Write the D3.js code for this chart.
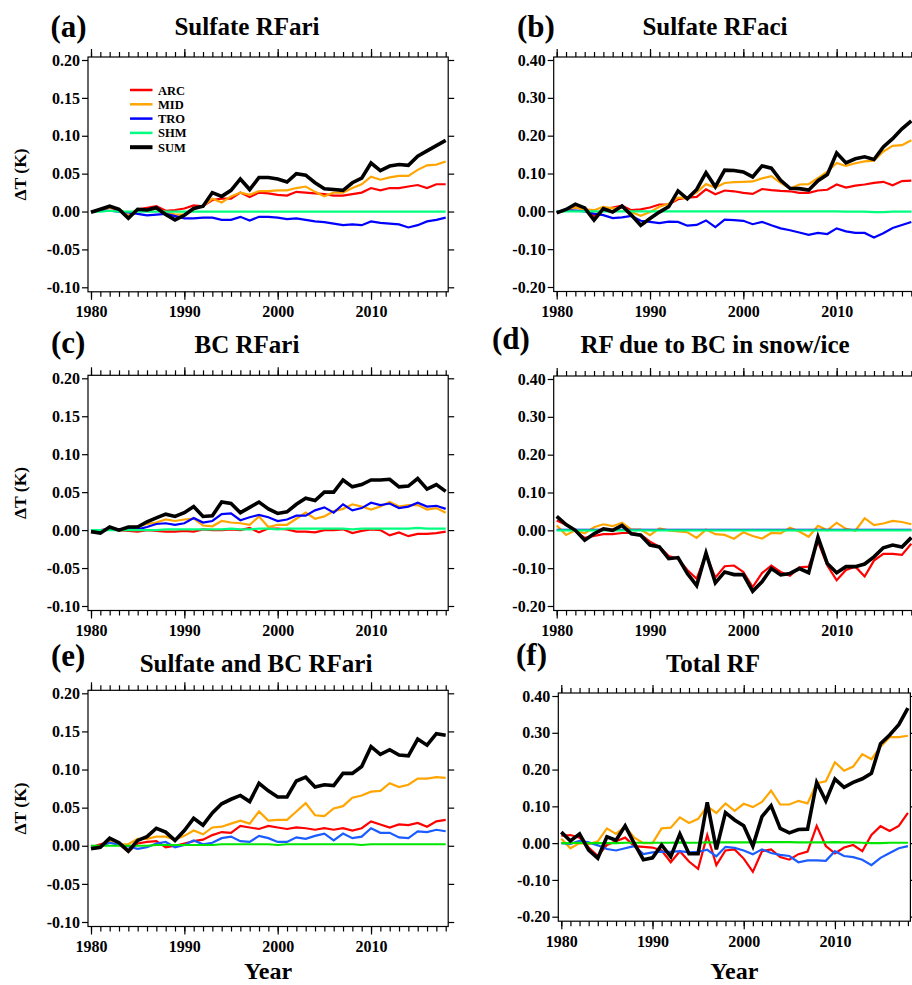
<!DOCTYPE html>
<html>
<head>
<meta charset="utf-8">
<script src="https://cdn.jsdelivr.net/npm/d3@7"></script>
<style>
  body { margin: 0; background: #fff; }
  svg { display: block; }
  svg text { font-family: "Liberation Serif", "Times New Roman", serif; font-weight: bold; fill: #000; }
</style>
</head>
<body>
<div id="chart"></div>
<script>
"use strict";

// ---- data ----
const years = d3.range(1980, 2019);
const regions = ["ARC", "MID", "TRO", "SHM", "SUM"];
const xTickLabels = [1980, 1990, 2000, 2010];
const yTicksSmall = [-0.10, -0.05, 0.00, 0.05, 0.10, 0.15, 0.20];
const yTicksLarge = [-0.20, -0.10, 0.00, 0.10, 0.20, 0.30, 0.40];

// (a) Sulfate RFari
const aARC = [-0.001,0.002,0.005,0.002,-0.007,0.003,0.005,0.007,0.001,0.002,0.004,0.008,0.007,0.015,0.017,0.017,0.025,0.019,0.025,0.024,0.022,0.021,0.026,0.025,0.024,0.023,0.021,0.021,0.023,0.025,0.031,0.028,0.031,0.031,0.033,0.035,0.031,0.036,0.036];
const aMID = [-0.001,0.002,0.005,0.003,-0.005,0.003,0.002,0.004,-0.001,-0.004,-0.004,0.004,0.007,0.017,0.012,0.020,0.025,0.022,0.027,0.027,0.028,0.028,0.031,0.033,0.026,0.020,0.025,0.025,0.031,0.036,0.046,0.042,0.045,0.047,0.047,0.055,0.061,0.062,0.066];
const aTRO = [0.000,0.001,0.001,0.000,-0.001,-0.003,-0.005,-0.004,-0.003,-0.006,-0.009,-0.009,-0.008,-0.008,-0.011,-0.011,-0.007,-0.012,-0.007,-0.007,-0.008,-0.010,-0.009,-0.011,-0.013,-0.014,-0.016,-0.018,-0.017,-0.018,-0.013,-0.015,-0.016,-0.017,-0.021,-0.018,-0.013,-0.011,-0.008];
const aSHM = [0.000,0.000,0.001,0.000,0.000,0.000,0.000,0.000,0.000,0.000,0.000,0.000,0.000,0.000,0.000,0.000,0.000,0.000,0.000,0.000,0.000,0.000,0.000,0.000,0.000,0.000,0.000,0.000,0.000,0.000,0.000,0.000,0.000,0.000,0.000,0.000,0.000,0.000,0.000];
const aSUM = [-0.001,0.003,0.007,0.003,-0.009,0.003,0.002,0.005,-0.004,-0.011,-0.005,0.004,0.007,0.025,0.020,0.028,0.043,0.029,0.045,0.045,0.043,0.039,0.050,0.048,0.038,0.030,0.029,0.028,0.038,0.044,0.064,0.054,0.060,0.062,0.061,0.073,0.080,0.087,0.094];

// (b) Sulfate RFaci
const bARC = [-0.002,0.003,0.010,0.007,-0.012,0.005,0.010,0.015,0.003,0.005,0.010,0.018,0.018,0.032,0.036,0.038,0.058,0.045,0.055,0.053,0.049,0.046,0.059,0.056,0.054,0.053,0.049,0.049,0.055,0.057,0.071,0.063,0.068,0.071,0.075,0.078,0.069,0.080,0.081];
const bMID = [-0.003,0.002,0.010,0.005,0.003,0.012,0.008,0.010,-0.002,-0.012,-0.002,0.012,0.020,0.036,0.035,0.050,0.072,0.063,0.075,0.077,0.078,0.079,0.087,0.093,0.075,0.060,0.071,0.072,0.088,0.105,0.128,0.120,0.127,0.132,0.134,0.158,0.173,0.175,0.188];
const bTRO = [0.000,0.002,0.002,0.000,-0.006,-0.010,-0.018,-0.016,-0.012,-0.025,-0.028,-0.031,-0.027,-0.028,-0.038,-0.036,-0.024,-0.042,-0.022,-0.023,-0.025,-0.034,-0.028,-0.037,-0.045,-0.050,-0.056,-0.062,-0.057,-0.060,-0.045,-0.053,-0.057,-0.057,-0.069,-0.058,-0.044,-0.036,-0.028];
const bSHM = [0.000,0.000,0.000,0.000,0.000,0.000,0.000,0.000,0.000,0.000,0.000,0.000,0.000,0.000,0.000,0.000,0.000,0.000,0.000,0.000,0.000,0.000,0.000,0.000,0.000,0.000,0.000,0.000,0.000,0.000,0.000,-0.001,-0.001,-0.001,-0.002,-0.002,-0.001,-0.001,-0.001];
const bSUM = [-0.004,0.005,0.019,0.009,-0.023,0.007,-0.002,0.014,-0.010,-0.037,-0.019,-0.002,0.012,0.054,0.033,0.058,0.102,0.065,0.109,0.108,0.104,0.091,0.120,0.114,0.082,0.061,0.060,0.056,0.081,0.097,0.154,0.128,0.139,0.144,0.137,0.170,0.192,0.218,0.239];

// (c) BC RFari
const cARC = [0.000,0.000,0.001,0.000,-0.001,-0.002,0.000,-0.001,-0.002,-0.002,-0.001,-0.002,0.001,0.000,0.000,0.001,0.000,0.003,-0.003,0.002,0.002,0.001,-0.002,-0.002,-0.003,0.000,0.000,0.001,-0.004,-0.001,0.001,0.000,-0.007,-0.003,-0.008,-0.005,-0.005,-0.004,-0.002];
const cMID = [0.000,-0.002,0.002,0.000,0.004,0.005,0.008,0.010,0.014,0.012,0.014,0.015,0.006,0.005,0.012,0.010,0.009,0.007,0.018,0.004,0.007,0.007,0.015,0.023,0.015,0.018,0.025,0.028,0.034,0.031,0.027,0.031,0.037,0.031,0.033,0.033,0.027,0.029,0.023];
const cTRO = [0.000,0.000,0.001,0.001,0.001,0.001,0.004,0.008,0.009,0.007,0.009,0.016,0.010,0.012,0.021,0.022,0.013,0.017,0.020,0.017,0.012,0.014,0.019,0.019,0.026,0.030,0.023,0.034,0.026,0.029,0.036,0.033,0.035,0.029,0.031,0.036,0.031,0.032,0.028];
const cSHM = [0.000,0.000,0.000,0.000,0.000,0.000,0.000,0.000,0.001,0.001,0.001,0.001,0.001,0.001,0.001,0.002,0.001,0.001,0.002,0.002,0.001,0.002,0.002,0.002,0.002,0.002,0.002,0.002,0.001,0.002,0.002,0.002,0.002,0.002,0.002,0.003,0.002,0.002,0.002];
const cSUM = [-0.002,-0.004,0.004,0.000,0.004,0.004,0.011,0.016,0.021,0.018,0.023,0.031,0.018,0.019,0.037,0.035,0.023,0.030,0.037,0.028,0.022,0.024,0.034,0.042,0.039,0.050,0.050,0.066,0.057,0.060,0.066,0.066,0.067,0.057,0.058,0.068,0.054,0.060,0.051];

// (d) RF due to BC in snow/ice
const dARC = [0.026,0.015,-0.002,-0.020,-0.015,-0.010,-0.010,-0.007,-0.007,-0.011,-0.030,-0.043,-0.068,-0.075,-0.105,-0.128,-0.063,-0.125,-0.095,-0.093,-0.110,-0.150,-0.113,-0.093,-0.110,-0.120,-0.098,-0.096,-0.030,-0.093,-0.132,-0.105,-0.096,-0.122,-0.080,-0.062,-0.062,-0.065,-0.035];
const dMID = [0.013,-0.012,0.000,-0.008,0.008,0.016,0.011,0.020,0.002,0.002,-0.013,0.005,0.000,-0.003,-0.005,-0.020,0.002,-0.010,-0.012,-0.022,-0.005,-0.015,-0.022,-0.007,-0.008,0.007,-0.003,-0.017,0.012,0.000,0.020,0.004,-0.001,0.032,0.014,0.018,0.025,0.022,0.016];
const dTRO = [0.001,0.001,0.001,0.001,0.001,0.001,0.001,0.001,0.001,0.001,0.001,0.001,0.001,0.001,0.001,0.001,0.001,0.001,0.001,0.001,0.001,0.001,0.001,0.001,0.001,0.001,0.001,0.001,0.001,0.001,0.001,0.001,0.001,0.001,0.001,0.001,0.001,0.001,0.001];
const dSHM = [0.000,0.000,0.000,0.000,0.000,0.000,0.000,0.000,0.000,0.000,0.000,0.000,0.000,0.000,0.000,0.000,0.000,0.000,0.000,0.000,0.000,0.000,0.000,0.000,0.000,0.000,0.000,0.000,0.000,0.000,0.000,0.000,0.000,0.000,0.000,0.000,0.000,0.000,0.000];
const dSUM = [0.037,0.015,0.000,-0.026,-0.009,0.004,0.000,0.013,-0.009,-0.013,-0.039,-0.044,-0.075,-0.072,-0.114,-0.146,-0.060,-0.139,-0.110,-0.117,-0.117,-0.161,-0.136,-0.101,-0.118,-0.114,-0.101,-0.112,-0.018,-0.088,-0.112,-0.096,-0.096,-0.089,-0.070,-0.046,-0.039,-0.044,-0.019];

// (e) Sulfate and BC RFari
const eARC = [-0.002,0.002,0.005,0.002,-0.008,0.003,0.005,0.006,-0.002,0.000,0.003,0.006,0.008,0.014,0.018,0.017,0.026,0.024,0.022,0.026,0.024,0.022,0.024,0.023,0.021,0.023,0.021,0.023,0.020,0.023,0.032,0.028,0.024,0.028,0.027,0.030,0.025,0.032,0.034];
const eMID = [-0.002,-0.001,0.007,0.002,0.002,0.009,0.009,0.012,0.012,0.008,0.013,0.020,0.015,0.024,0.025,0.029,0.033,0.029,0.045,0.033,0.034,0.034,0.045,0.056,0.040,0.039,0.049,0.052,0.063,0.066,0.071,0.072,0.082,0.077,0.080,0.088,0.088,0.090,0.089];
const eTRO = [0.000,-0.001,0.004,0.001,-0.001,-0.004,-0.002,0.003,0.005,-0.002,0.001,0.007,0.002,0.004,0.010,0.012,0.006,0.005,0.013,0.010,0.005,0.005,0.011,0.009,0.013,0.016,0.007,0.016,0.010,0.012,0.023,0.017,0.017,0.011,0.010,0.019,0.018,0.021,0.019];
const eSHM = [0.000,0.000,0.000,0.000,0.000,0.000,0.000,0.001,0.001,0.001,0.001,0.001,0.001,0.001,0.002,0.002,0.002,0.002,0.002,0.002,0.001,0.002,0.002,0.002,0.002,0.002,0.002,0.002,0.002,0.001,0.002,0.002,0.002,0.002,0.002,0.002,0.002,0.002,0.002];
const eSUM = [-0.004,-0.002,0.010,0.004,-0.007,0.007,0.012,0.023,0.018,0.007,0.020,0.036,0.027,0.043,0.055,0.061,0.066,0.058,0.082,0.072,0.064,0.064,0.085,0.090,0.077,0.080,0.079,0.095,0.095,0.104,0.130,0.120,0.126,0.119,0.118,0.140,0.132,0.147,0.145];

// (f) Total RF
const fARC = [0.020,0.022,0.015,-0.012,-0.035,-0.005,0.005,0.015,-0.008,-0.010,-0.012,-0.020,-0.052,-0.022,-0.050,-0.070,0.022,-0.060,-0.020,-0.017,-0.042,-0.078,-0.022,-0.017,-0.038,-0.045,-0.030,-0.023,0.047,-0.008,-0.028,-0.012,-0.005,-0.022,0.022,0.046,0.033,0.047,0.082];
const fMID = [0.012,-0.014,0.000,-0.003,0.005,0.040,0.025,0.045,0.015,0.000,0.000,0.040,0.042,0.070,0.055,0.066,0.100,0.082,0.108,0.088,0.107,0.098,0.112,0.143,0.105,0.105,0.115,0.108,0.163,0.168,0.220,0.197,0.208,0.242,0.228,0.262,0.288,0.288,0.292];
const fTRO = [0.000,-0.002,0.006,0.002,-0.006,-0.016,-0.020,-0.014,-0.008,-0.030,-0.025,-0.023,-0.024,-0.022,-0.025,-0.024,-0.018,-0.036,-0.010,-0.013,-0.020,-0.030,-0.017,-0.027,-0.032,-0.035,-0.052,-0.047,-0.047,-0.048,-0.022,-0.035,-0.038,-0.045,-0.060,-0.040,-0.027,-0.014,-0.008];
const fSHM = [0.000,0.000,0.001,0.000,0.000,0.000,0.000,0.001,0.001,0.001,0.001,0.001,0.001,0.002,0.001,0.001,0.002,0.002,0.002,0.002,0.002,0.002,0.003,0.003,0.003,0.003,0.002,0.002,0.002,0.002,0.003,0.002,0.002,0.001,0.000,0.000,0.001,0.001,0.001];
const fSUM = [0.030,0.006,0.025,-0.019,-0.041,0.017,0.008,0.047,-0.001,-0.045,-0.040,-0.005,-0.037,0.025,-0.029,-0.029,0.111,-0.017,0.083,0.063,0.047,-0.008,0.072,0.102,0.040,0.028,0.037,0.038,0.165,0.115,0.174,0.152,0.165,0.175,0.190,0.270,0.294,0.322,0.367];

// ---- styles ----
const serif = '"Liberation Serif", "Times New Roman", serif';
const colorsTop = {ARC: "#ff0000", MID: "#ffa500", TRO: "#0000ff", SHM: "#00ff7f", SUM: "#000000"};
const colorsBottom = {ARC: "#ff0000", MID: "#ffa500", TRO: "#1a5cff", SHM: "#00e600", SUM: "#000000"};

const panels = [
  {tag: "(a)", title: "Sulfate RFari", series: [aARC, aMID, aTRO, aSHM, aSUM], ticks: yTicksSmall, dom: [-0.1, 0.2],
   x0: 91, x1: 445.7, yTop: 60, yBot: 287.3, colors: colorsTop, tagX: 50.5, tagY: 37, titleX: 247, titleY: 34.5, ylabel: true, legend: true},
  {tag: "(b)", title: "Sulfate RFaci", series: [bARC, bMID, bTRO, bSHM, bSUM], ticks: yTicksLarge, dom: [-0.2, 0.4],
   x0: 556.7, x1: 911.3, yTop: 60, yBot: 287, colors: colorsTop, tagX: 517, tagY: 37, titleX: 715, titleY: 34.5},
  {tag: "(c)", title: "BC RFari", series: [cARC, cMID, cTRO, cSHM, cSUM], ticks: yTicksSmall, dom: [-0.1, 0.2],
   x0: 91, x1: 445.7, yTop: 378.3, yBot: 606, colors: colorsTop, tagX: 51, tagY: 352.5, titleX: 247, titleY: 352.5, ylabel: true},
  {tag: "(d)", title: "RF due to BC in snow/ice", series: [dARC, dMID, dTRO, dSHM, dSUM], ticks: yTicksLarge, dom: [-0.2, 0.4],
   x0: 556.7, x1: 911.3, yTop: 379, yBot: 606, colors: colorsTop, tagX: 492, tagY: 349, titleX: 715, titleY: 353},
  {tag: "(e)", title: "Sulfate and BC RFari", series: [eARC, eMID, eTRO, eSHM, eSUM], ticks: yTicksSmall, dom: [-0.1, 0.2],
   x0: 91, x1: 445.7, yTop: 693.3, yBot: 922, colors: colorsBottom, tagX: 51, tagY: 666, titleX: 256, titleY: 671.5, ylabel: true, xlabel: true},
  {tag: "(f)", title: "Total RF", series: [fARC, fMID, fTRO, fSHM, fSUM], ticks: yTicksLarge, dom: [-0.2, 0.4],
   x0: 561.3, x1: 907.9, yTop: 696, yBot: 916.7, colors: colorsBottom, tagX: 516, tagY: 665, titleX: 713, titleY: 671.5, xlabel: true}
];

const svg = d3.select("#chart").append("svg")
  .attr("width", 912).attr("height", 985)
  .attr("font-family", serif).attr("font-weight", "bold");

panels.forEach(drawPanel);

function drawPanel(p) {
  const x = d3.scaleLinear().domain([1980, 2018]).range([p.x0, p.x1]);
  const y = d3.scaleLinear().domain(p.dom).range([p.yBot, p.yTop]);
  const g = svg.append("g");

  const left = p.x0 - 3, right = p.x1 + 2.5;
  const top = p.yTop - 3, bottom = p.yBot + 4.5;

  // plot frame
  g.append("rect")
    .attr("x", left).attr("y", top)
    .attr("width", right - left).attr("height", bottom - top)
    .attr("fill", "none").attr("stroke", "#000").attr("stroke-width", 1.2);

  const fmt = d => d.toFixed(2);

  // left axis
  const ya = g.append("g").attr("transform", `translate(${left},0)`)
    .call(d3.axisLeft(y).tickValues(p.ticks).tickSize(6).tickPadding(2).tickFormat(fmt));
  // right axis (ticks only)
  const yr = g.append("g").attr("transform", `translate(${right},0)`)
    .call(d3.axisRight(y).tickValues(p.ticks).tickSize(6).tickFormat(""));

  // top axis: minor + major ticks
  const xt1 = g.append("g").attr("transform", `translate(0,${top})`)
    .call(d3.axisTop(x).tickValues(years).tickSize(5).tickFormat(""));
  const xt2 = g.append("g").attr("transform", `translate(0,${top})`)
    .call(d3.axisTop(x).tickValues(xTickLabels).tickSize(8).tickFormat(""));

  // bottom axis
  const xb1 = g.append("g").attr("transform", `translate(0,${bottom})`)
    .call(d3.axisBottom(x).tickValues(years).tickSize(5).tickFormat(""));
  const xb2 = g.append("g").attr("transform", `translate(0,${bottom})`)
    .call(d3.axisBottom(x).tickValues(xTickLabels).tickSize(8).tickPadding(4).tickFormat(d3.format("d")));

  [ya, yr, xt1, xt2, xb1, xb2].forEach(a => {
    a.attr("font-family", serif).attr("font-size", 16).attr("font-weight", "bold");
    a.select(".domain").remove();
    a.selectAll("line").attr("stroke", "#000").attr("stroke-width", 1.2);
    a.selectAll("text").attr("fill", "#000");
  });
  xb2.selectAll("text").attr("dy", "0.85em");

  // lines
  const line = d3.line()
    .x((d, i) => x(years[i]))
    .y(d => y(d));
  regions.forEach((r, k) => {
    g.append("path")
      .datum(p.series[k])
      .attr("d", line)
      .attr("fill", "none")
      .attr("stroke", p.colors[r])
      .attr("stroke-width", r === "SUM" ? 3.6 : 2.2)
      .attr("stroke-linejoin", "miter");
  });

  // panel tag and title
  g.append("text").attr("x", p.tagX).attr("y", p.tagY)
    .attr("font-size", 31).text(p.tag);
  g.append("text").attr("x", p.titleX).attr("y", p.titleY)
    .attr("text-anchor", "middle").attr("font-size", 25).text(p.title);

  if (p.ylabel) {
    g.append("text")
      .attr("transform", `translate(26,${(top + bottom) / 2}) rotate(-90)`)
      .attr("text-anchor", "middle").attr("font-size", 17.5)
      .text("ΔT (K)");
  }
  if (p.xlabel) {
    g.append("text").attr("x", (left + right) / 2).attr("y", 979)
      .attr("text-anchor", "middle").attr("font-size", 24).text("Year");
  }

  if (p.legend) {
    const lg = g.append("g");
    regions.forEach((r, k) => {
      const yy = 90 + k * 14.3;
      lg.append("line")
        .attr("x1", 130).attr("x2", 152.5).attr("y1", yy).attr("y2", yy)
        .attr("stroke", p.colors[r]).attr("stroke-width", r === "SUM" ? 4 : 2.5);
      lg.append("text").attr("x", 158).attr("y", yy + 4.5)
        .attr("font-size", 12.5).text(r);
    });
  }
}
</script>
</body>
</html>
